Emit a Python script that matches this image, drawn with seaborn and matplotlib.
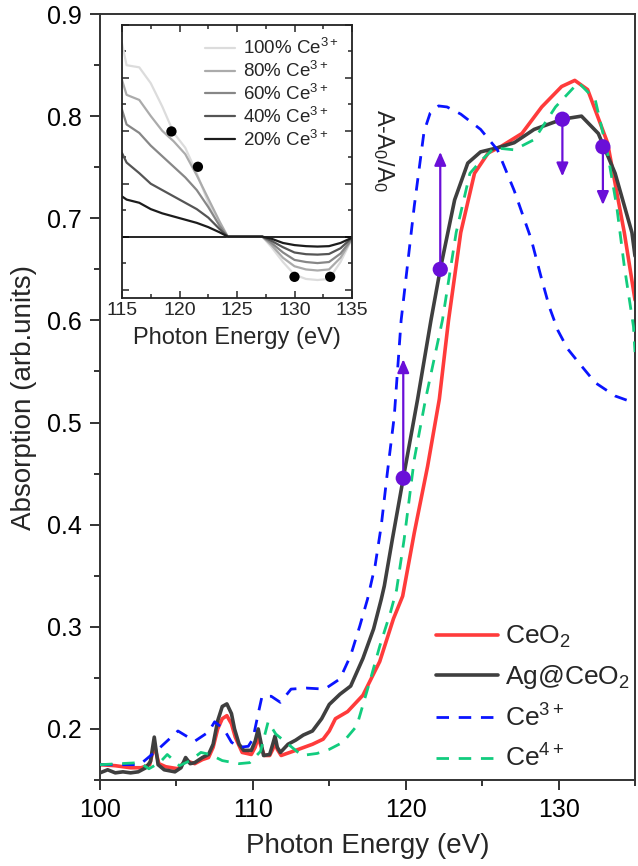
import numpy as np
import pandas as pd
import matplotlib
matplotlib.use("Agg")
import matplotlib.pyplot as plt
from matplotlib.ticker import MultipleLocator, NullFormatter
import seaborn as sns

# ---------------- data ----------------
red_x = [100.0, 101.0, 102.0, 102.7, 103.25, 103.55, 103.85, 104.3, 105.1, 105.6, 106.2, 106.7, 107.1,
         107.4, 107.7, 108.0, 108.3, 108.6, 108.85, 109.3, 109.9, 110.15, 110.35, 110.55, 110.75, 111.1,
         111.3, 111.45, 111.6, 111.85, 112.8, 113.9, 114.6, 115.0, 115.4, 116.2, 117.2, 118.3, 119.2,
         119.8, 120.56, 121.43, 122.2, 122.8, 123.6, 124.5, 125.4, 126.2, 127.6, 128.9, 130.2, 131.06,
         131.9, 133.2, 133.9, 134.3, 135.0]
red_y = [0.165, 0.164, 0.162, 0.162, 0.165, 0.184, 0.166, 0.163, 0.161, 0.169, 0.166, 0.170, 0.172,
         0.182, 0.200, 0.210, 0.213, 0.205, 0.192, 0.177, 0.175, 0.182, 0.192, 0.182, 0.174, 0.174,
         0.180, 0.187, 0.180, 0.174, 0.179, 0.185, 0.190, 0.198, 0.210, 0.217, 0.233, 0.266, 0.308,
         0.330, 0.392, 0.457, 0.523, 0.600, 0.686, 0.744, 0.764, 0.770, 0.783, 0.809, 0.829, 0.835,
         0.826, 0.774, 0.718, 0.686, 0.620]

blk_x = [100.0, 100.5, 101.0, 101.5, 102.0, 102.5, 103.0, 103.3, 103.55, 103.8, 104.2, 104.9, 105.3,
         105.6, 105.9, 106.2, 106.7, 107.1, 107.4, 107.7, 108.0, 108.3, 108.6, 108.8, 109.1, 109.4,
         109.9, 110.15, 110.35, 110.55, 110.7, 111.1, 111.3, 111.45, 111.6, 111.8, 112.3, 112.8, 113.3,
         113.9, 114.5, 115.0, 115.7, 116.4, 117.2, 117.9, 118.4, 118.6, 119.13, 119.84, 120.78, 121.65,
         122.26, 123.2, 124.06, 124.9, 126.0, 127.1, 128.4, 130.25, 131.5, 132.6, 133.7, 134.8, 135.0]
blk_y = [0.157, 0.160, 0.157, 0.158, 0.157, 0.158, 0.162, 0.168, 0.192, 0.165, 0.160, 0.158, 0.162,
         0.172, 0.166, 0.167, 0.172, 0.175, 0.185, 0.208, 0.222, 0.2245, 0.215, 0.200, 0.185, 0.179,
         0.179, 0.188, 0.200, 0.185, 0.174, 0.175, 0.185, 0.193, 0.182, 0.177, 0.185, 0.189, 0.194,
         0.198, 0.210, 0.224, 0.234, 0.242, 0.269, 0.298, 0.327, 0.340, 0.386, 0.4455, 0.523, 0.600,
         0.650, 0.718, 0.754, 0.765, 0.769, 0.774, 0.787, 0.797, 0.800, 0.783, 0.744, 0.686, 0.663]

blu_x = [100.0, 102.6, 103.8, 105.1, 106.2, 107.1, 107.5, 108.1, 108.6, 109.1, 109.7, 110.0, 110.35,
         110.6, 111.2, 111.8, 112.5, 113.5, 114.7, 115.7, 116.4, 117.0, 117.5, 118.0, 118.4, 118.8,
         119.25, 119.7, 120.56, 121.2, 121.6, 122.15, 122.7, 123.6, 124.9, 126.0, 127.1, 128.2, 128.9,
         129.4, 129.96, 130.6, 131.3, 132.4, 133.7, 135.0]
blu_y = [0.165, 0.165, 0.180, 0.198, 0.188, 0.197, 0.207, 0.200, 0.187, 0.182, 0.183, 0.190, 0.215,
         0.232, 0.232, 0.226, 0.239, 0.240, 0.239, 0.249, 0.272, 0.301, 0.327, 0.360, 0.399, 0.451,
         0.506, 0.600, 0.712, 0.785, 0.803, 0.810, 0.809, 0.802, 0.787, 0.767, 0.727, 0.680, 0.640,
         0.613, 0.590, 0.572, 0.559, 0.539, 0.526, 0.519]

grn_x = [100.0, 102.6, 103.2, 103.9, 104.4, 105.2, 105.9, 106.6, 107.2, 108.0, 109.1, 109.8, 110.5,
         111.0, 111.5, 112.4, 113.2, 114.2, 115.0, 115.9, 116.8, 117.7, 118.3, 119.0, 119.4, 119.9,
         120.56, 121.3, 122.4, 123.3, 124.2, 124.9, 125.8, 127.1, 128.4, 129.8, 131.3, 132.4, 133.2,
         133.8, 134.3, 134.9, 135.0]
grn_y = [0.165, 0.167, 0.161, 0.167, 0.175, 0.164, 0.169, 0.177, 0.175, 0.169, 0.166, 0.167, 0.178,
         0.207, 0.195, 0.184, 0.174, 0.176, 0.180, 0.187, 0.203, 0.249, 0.281, 0.314, 0.336, 0.386,
         0.464, 0.523, 0.600, 0.686, 0.744, 0.756, 0.769, 0.767, 0.777, 0.809, 0.833, 0.816, 0.764,
         0.712, 0.653, 0.594, 0.569]

series_labels = ["CeO$_\\mathregular{2}$", "Ag@CeO$_\\mathregular{2}$", "Ce$^\\mathregular{3+}$", "Ce$^\\mathregular{4+}$"]

dot_x = [119.84, 122.26, 130.25, 132.9]
dot_y = [0.4455, 0.650, 0.797, 0.770]
arrow_end = [0.562, 0.765, 0.741, 0.713]

# inset data
ins_x = [115.0, 115.4, 116.5, 117.5, 118.5, 119.5, 120.5, 121.5, 122.5, 123.5, 124.2, 127.2,
         128.0, 129.0, 130.0, 131.0, 132.0, 133.0, 134.0, 135.0]
ins_100 = [0.913, 0.81, 0.80, 0.725, 0.615, 0.49, 0.42, 0.30, 0.16, 0.05, 0.0, 0.0,
           -0.05, -0.12, -0.18, -0.20, -0.205, -0.20, -0.12, -0.01]
ins_80 = [0.74, 0.67, 0.646, 0.57, 0.50, 0.45, 0.39, 0.29, 0.18, 0.07, 0.0, 0.0,
          -0.04, -0.10, -0.14, -0.155, -0.16, -0.155, -0.10, -0.01]
ins_60 = [0.60, 0.53, 0.49, 0.43, 0.38, 0.33, 0.28, 0.22, 0.14, 0.05, 0.0, 0.0,
          -0.03, -0.075, -0.11, -0.12, -0.125, -0.12, -0.08, -0.01]
ins_40 = [0.395, 0.35, 0.30, 0.25, 0.22, 0.19, 0.16, 0.13, 0.09, 0.035, 0.0, 0.0,
          -0.02, -0.05, -0.075, -0.083, -0.085, -0.082, -0.055, -0.005]
ins_20 = [0.19, 0.175, 0.16, 0.13, 0.11, 0.095, 0.08, 0.065, 0.045, 0.02, 0.0, 0.0,
          -0.01, -0.03, -0.04, -0.045, -0.047, -0.045, -0.03, -0.005]
ins_labels = ["100% Ce$^\\mathregular{3+}$", "80% Ce$^\\mathregular{3+}$", "60% Ce$^\\mathregular{3+}$",
              "40% Ce$^\\mathregular{3+}$", "20% Ce$^\\mathregular{3+}$"]
ins_dot_x = [119.3, 121.6, 130.0, 133.1]
ins_dot_y = [0.497, 0.33, -0.19, -0.19]

# ---------------- style ----------------
sns.set_style("ticks")
plt.rcParams["font.family"] = ["Liberation Sans", "DejaVu Sans"]
plt.rcParams["mathtext.fontset"] = "custom"
plt.rcParams["mathtext.rm"] = "Liberation Sans"
plt.rcParams["mathtext.it"] = "Liberation Sans:italic"
plt.rcParams["mathtext.bf"] = "Liberation Sans:bold"

fig = plt.figure(figsize=(6.38, 8.66), dpi=100)
W, H = 638, 866
ax = fig.add_axes([100 / W, 1 - 780 / H, 535 / W, 766 / H])

purple = "#6a0fd8"
colors = ["#ff3b3b", "#3f3f3f", "#0a14ff", "#12cc7e"]

sns.lineplot(x=red_x, y=red_y, ax=ax, color=colors[0], lw=2.6, sort=False, estimator=None,
             label=series_labels[0], zorder=2)
sns.lineplot(x=blk_x, y=blk_y, ax=ax, color=colors[1], lw=2.6, sort=False, estimator=None,
             label=series_labels[1], zorder=3)
sns.lineplot(x=blu_x, y=blu_y, ax=ax, color=colors[2], lw=2.0, sort=False, estimator=None,
             label=series_labels[2], zorder=4, linestyle=(0, (4.5, 3.5)))
sns.lineplot(x=grn_x, y=grn_y, ax=ax, color=colors[3], lw=2.0, sort=False, estimator=None,
             label=series_labels[3], zorder=4, linestyle=(0, (4.5, 3.5)))

for x0, y0, y1 in zip(dot_x, dot_y, arrow_end):
    ax.annotate("", xy=(x0, y1), xytext=(x0, y0),
                arrowprops=dict(arrowstyle="-|>,head_length=0.8,head_width=0.35", color=purple,
                                lw=1.6, shrinkA=0, shrinkB=0), zorder=6)
sns.scatterplot(x=dot_x, y=dot_y, ax=ax, color=purple, s=120, edgecolor="none", zorder=7, legend=False)

ax.set_xlim(100, 135)
ax.set_ylim(0.15, 0.9)
ax.xaxis.set_major_locator(MultipleLocator(10))
ax.xaxis.set_minor_locator(MultipleLocator(5))
ax.yaxis.set_major_locator(MultipleLocator(0.1))
ax.yaxis.set_minor_locator(MultipleLocator(0.05))
ax.set_yticks([0.2, 0.3, 0.4, 0.5, 0.6, 0.7, 0.8, 0.9])
ax.set_yticklabels(["0.2", "0.3", "0.4", "0.5", "0.6", "0.7", "0.8", "0.9"])
ax.tick_params(axis="both", which="major", direction="out", length=7, width=1.3, labelsize=18, pad=6,
               colors="#222222", labelcolor="black")
ax.tick_params(axis="both", which="minor", direction="out", length=4, width=1.3, colors="#222222")
for s in ax.spines.values():
    s.set_visible(True)
    s.set_linewidth(1.4)
    s.set_color("#333333")
ax.set_xlabel("Photon Energy (eV)", fontsize=20, labelpad=8)
ax.set_ylabel("Absorption (arb.units)", fontsize=20)
ax.yaxis.set_label_coords(-0.118, 0.5)

leg = ax.legend(loc="lower right", bbox_to_anchor=(1.005, 0.0), frameon=False, fontsize=19,
                handlelength=2.35, handletextpad=0.25, labelspacing=0.5, borderaxespad=0.1,
                borderpad=0.2)

# ---------------- inset ----------------
ax_in = fig.add_axes([122 / W, 1 - 298 / H, 230 / W, 273 / H])
ax_in.set_facecolor("white")
ins_sets = [ins_100, ins_80, ins_60, ins_40, ins_20]
ins_colors = ["#dcdcdc", "#ababab", "#878787", "#555555", "#1c1c1c"]
for vals, c, lab in zip(ins_sets, ins_colors, ins_labels):
    sns.lineplot(x=ins_x, y=vals, ax=ax_in, color=c, lw=1.6, sort=False, estimator=None, label=lab)
ax_in.axhline(0, color="black", lw=1.2, zorder=1)
sns.scatterplot(x=ins_dot_x, y=ins_dot_y, ax=ax_in, color="black", s=55, edgecolor="none",
                zorder=6, legend=False)
ax_in.set_xlim(115, 135)
ax_in.set_ylim(-0.29, 1.0)
ax_in.xaxis.set_major_locator(MultipleLocator(5))
ax_in.xaxis.set_minor_locator(MultipleLocator(2.5))
ax_in.yaxis.set_major_locator(MultipleLocator(0.25))
ax_in.yaxis.set_minor_locator(MultipleLocator(0.125))
ax_in.yaxis.set_major_formatter(NullFormatter())
ax_in.tick_params(axis="both", which="major", direction="in", length=5, width=1.1, top=True,
                  right=True, labelsize=14, pad=3)
ax_in.tick_params(axis="both", which="minor", direction="in", length=3, width=1.1, top=True, right=True)
for s in ax_in.spines.values():
    s.set_linewidth(1.3)
    s.set_color("#222222")
ax_in.set_xlabel("Photon Energy (eV)", fontsize=17, labelpad=6)
ax_in.set_ylabel("")
ax_in.legend(loc="upper right", bbox_to_anchor=(1.0, 1.0), frameon=False, fontsize=13.5,
             handlelength=1.6, handletextpad=0.45, labelspacing=0.15, borderaxespad=0.5, borderpad=0.2)
fig.text(383 / W, 1 - 150 / H, "A-A$_\\mathregular{0}$/A$_\\mathregular{0}$", rotation=-90,
         fontsize=17, ha="center", va="center")

fig.savefig("out.png", dpi=100, facecolor="white")
